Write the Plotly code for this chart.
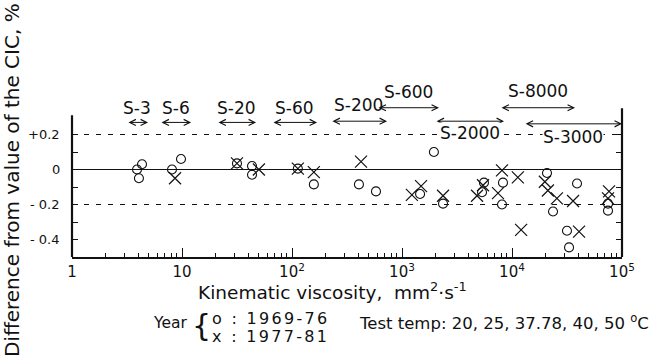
import math
import plotly.graph_objects as go

# ---- data ----
# 1969-76 (open circles)
visc_1969 = [3.9, 4.33, 4.06, 8.11, 9.79, 31.6, 43.3, 43.3, 113, 158, 1950, 406, 580,
             1460, 2360, 5560, 5340, 8280, 8110, 20800, 23600, 39000, 31600, 33000,
             74600, 74600]
diff_1969 = [0.0, 0.03, -0.05, 0.0, 0.06, 0.035, 0.02, -0.03, 0.005, -0.085, 0.10, -0.085,
             -0.125, -0.14, -0.195, -0.075, -0.13, -0.075, -0.20, -0.02, -0.24, -0.08,
             -0.35, -0.445, -0.195, -0.235]
# 1977-81 (crosses)
visc_1977 = [8.64, 31.6, 50, 113, 158, 424, 1230, 1490, 2360, 4810, 5450, 8110, 7460,
             11300, 12100, 19900, 21200, 25600, 35900, 40700, 76200, 74600]
diff_1977 = [-0.05, 0.035, 0.0, 0.005, -0.015, 0.045, -0.145, -0.095, -0.15, -0.15, -0.09,
             -0.005, -0.135, -0.045, -0.345, -0.07, -0.12, -0.165, -0.18, -0.355, -0.125,
             -0.165]

# standard oil grades and their viscosity ranges
grades = ["S-3", "S-6", "S-20", "S-60", "S-200", "S-600", "S-2000", "S-8000", "S-3000"]
grade_lo = [3.16, 6.31, 20.8, 65.8, 226, 593, 2000, 7780, 12900]
grade_hi = [4.91, 12.1, 47.1, 169, 731, 2170, 8460, 37400, 100000]

# tick labels
x_tickvals = [1, 10, 100, 1000, 10000, 100000]
x_ticktext = ["1", "10", "10<sup>2</sup>", "10<sup>3</sup>", "10<sup>4</sup>", "10<sup>5</sup>"]
y_tickvals = [-0.4, -0.3, -0.2, -0.1, 0.0, 0.1, 0.2]
y_ticktext = ["- 0.4", "", "- 0.2", "", "0", "", "+0.2"]

# ---- layout positions (not data) ----
arrow_y = [0.269, 0.269, 0.269, 0.269, 0.276, 0.353, 0.276, 0.353, 0.261]
label_y = [0.349, 0.349, 0.349, 0.349, 0.366, 0.442, 0.208, 0.447, 0.183]

FONT = "DejaVu Sans"
INK = "#111"


def spaced(t, px):
    return f'<span style="letter-spacing:{px}px">{t}</span>'


fig = go.Figure()
fig.add_trace(go.Scatter(
    x=visc_1969, y=diff_1969, mode="markers", name="1969-76",
    marker=dict(symbol="circle-open", size=9, color=INK, line=dict(width=1.1, color=INK)),
    cliponaxis=False))
fig.add_trace(go.Scatter(
    x=visc_1977, y=diff_1977, mode="markers", name="1977-81",
    marker=dict(symbol="x-thin-open", size=12, color=INK, line=dict(width=1.2, color=INK)),
    cliponaxis=False))
# invisible trace for right-side ticks
fig.add_trace(go.Scatter(x=[1], y=[0], yaxis="y2", mode="markers",
                         marker=dict(opacity=0), showlegend=False, hoverinfo="skip"))

shapes = [
    dict(type="line", xref="paper", x0=0, x1=1, yref="y", y0=0, y1=0,
         line=dict(color=INK, width=1.2), layer="below"),
    dict(type="line", xref="paper", x0=0, x1=1, yref="y", y0=0.2, y1=0.2,
         line=dict(color=INK, width=1.1, dash="5px,7px"), layer="below"),
    dict(type="line", xref="paper", x0=0, x1=1, yref="y", y0=-0.2, y1=-0.2,
         line=dict(color=INK, width=1.1, dash="5px,7px"), layer="below"),
    # left and right axis lines
    dict(type="line", xref="paper", x0=0, x1=0, yref="y", y0=-0.5, y1=0.31,
         line=dict(color=INK, width=2.2)),
    dict(type="line", xref="paper", x0=1, x1=1, yref="y", y0=-0.5, y1=0.35,
         line=dict(color=INK, width=2.2)),
]

annotations = []
for g, lo, hi, ay, ly in zip(grades, grade_lo, grade_hi, arrow_y, label_y):
    annotations.append(dict(
        x=math.log10(hi), y=ay, xref="x", yref="y",
        ax=math.log10(lo), ay=ay, axref="x", ayref="y",
        text="", showarrow=True, arrowside="end+start",
        arrowhead=5, startarrowhead=5, arrowsize=1.2, startarrowsize=1.2,
        arrowwidth=1.0, arrowcolor=INK, standoff=0, startstandoff=0))
    mid = (math.log10(lo) + math.log10(hi)) / 2
    annotations.append(dict(
        x=mid, y=ly, xref="x", yref="y", text=g, showarrow=False,
        xanchor="center", yanchor="middle",
        font=dict(family=FONT, size=17, color=INK),
        bgcolor="white" if ly < 0.25 else "rgba(0,0,0,0)", borderpad=0))

# y tick labels drawn as text next to the axis
for v, t in zip(y_tickvals, y_ticktext):
    if t:
        annotations.append(dict(
            xref="paper", yref="y", x=-0.018, y=v, text=t, showarrow=False,
            xanchor="right", yanchor="middle",
            font=dict(family=FONT, size=13, color=INK)))


def note(x, y, text, size, xanchor="center", angle=0):
    return dict(xref="paper", yref="paper", x=x, y=y, text=text, showarrow=False,
                xanchor=xanchor, yanchor="middle", textangle=angle,
                font=dict(family=FONT, size=size, color=INK))


annotations += [
    note(0.473, -0.194, "Kinematic viscosity,  mm<sup>2</sup>·s<sup>-1</sup>", 18.5),
    note(-0.109, 0.44, "Difference from value of the CIC, %", 20, angle=-90),
    note(0.178, -0.377, "Year", 15.5),
    note(0.236, -0.392, "{", 30),
    note(0.25, -0.349, spaced("o : 1969-76", 2.3), 16, xanchor="left"),
    note(0.25, -0.457, spaced("x : 1977-81", 2.3), 16, xanchor="left"),
    note(0.518, -0.371, "Test temp: 20, 25, 37.78, 40, 50 <sup>o</sup>C", 16.5, xanchor="left"),
]

fig.update_layout(
    width=661, height=364,
    margin=dict(l=72, r=39, t=82, b=107),
    paper_bgcolor="white", plot_bgcolor="white",
    showlegend=False,
    font=dict(family=FONT, color=INK),
    shapes=shapes, annotations=annotations,
    xaxis=dict(
        type="log", range=[0, 5], showgrid=False, zeroline=False, automargin=False,
        showline=True, linecolor=INK, linewidth=2.2, mirror=False,
        tickmode="array", tickvals=x_tickvals, ticktext=x_ticktext,
        ticks="inside", ticklen=9, tickwidth=1.2, tickcolor=INK,
        tickfont=dict(family=FONT, size=15, color=INK),
        minor=dict(ticks="inside", ticklen=4, tickwidth=1, tickcolor=INK,
                   tickmode="array",
                   tickvals=[m * 10 ** d for d in range(5) for m in range(2, 10)]),
    ),
    yaxis=dict(
        range=[-0.5, 0.5], showgrid=False, zeroline=False, showline=False,
        automargin=False, showticklabels=False,
        tickmode="array", tickvals=y_tickvals,
        ticks="inside", ticklen=6, tickwidth=1.2, tickcolor=INK,
    ),
    yaxis2=dict(
        range=[-0.5, 0.5], overlaying="y", side="right", showgrid=False,
        zeroline=False, showline=False, showticklabels=False, automargin=False,
        tickmode="array", tickvals=y_tickvals,
        ticks="inside", ticklen=6, tickwidth=1.2, tickcolor=INK,
    ),
)

fig.write_html("out.html", config={"displayModeBar": False},
               post_script="document.body.style.margin='0';")
